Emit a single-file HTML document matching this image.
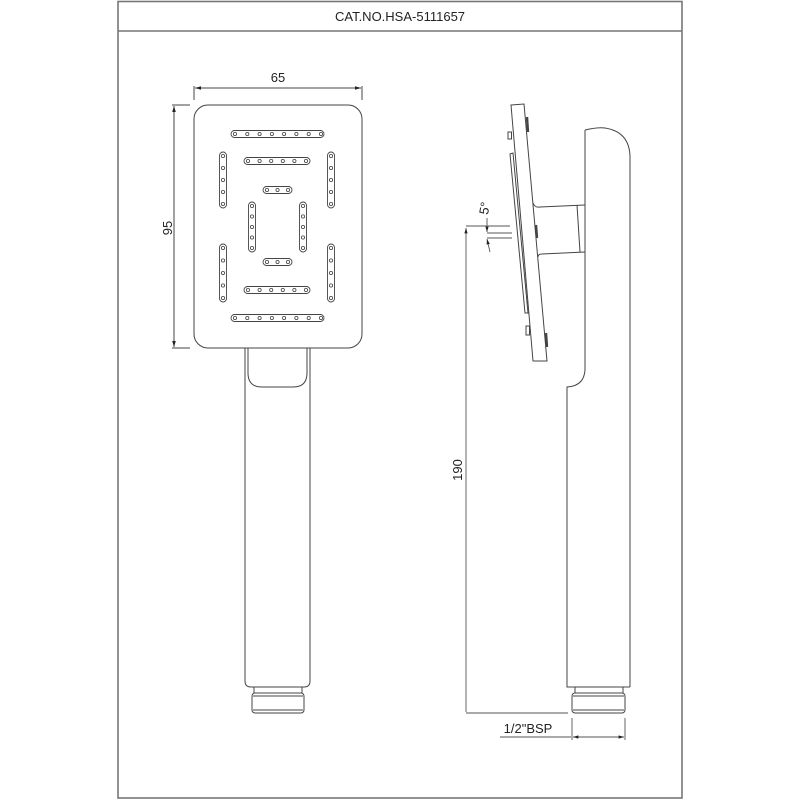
<!DOCTYPE html>
<html><head><meta charset="utf-8"><style>
html,body{margin:0;padding:0;background:#fff}
svg{display:block}
text{font-family:"Liberation Sans",sans-serif;fill:#222}
</style></head><body>
<svg width="800" height="800" viewBox="0 0 800 800" xmlns="http://www.w3.org/2000/svg">
<defs>
<marker id="ar" viewBox="0 0 10 10" refX="10" refY="5" markerWidth="6" markerHeight="6" orient="auto-start-reverse"><path d="M0,2 L10,5 L0,8 z" fill="#222"/></marker>
</defs>
<!-- frame -->
<rect x="118" y="1.5" width="564" height="796.5" fill="none" stroke="#777" stroke-width="1.6"/>
<line x1="118" y1="31" x2="682" y2="31" stroke="#777" stroke-width="1.6"/>
<text x="400" y="21" font-size="13" text-anchor="middle">CAT.NO.HSA-5111657</text>

<g fill="none" stroke="#444" stroke-width="1">
<!-- front head -->
<rect x="194" y="105" width="168" height="243" rx="14"/>
<!-- 65 dim -->
<line x1="194" y1="100" x2="194" y2="86"/><line x1="362" y1="100" x2="362" y2="86"/>
<line x1="195" y1="88" x2="361" y2="88" marker-start="url(#ar)" marker-end="url(#ar)"/>
<!-- 95 dim -->
<line x1="172" y1="105" x2="190" y2="105"/><line x1="172" y1="348" x2="190" y2="348"/>
<line x1="174" y1="106" x2="174" y2="347" marker-start="url(#ar)" marker-end="url(#ar)"/>
<!-- handle -->
<path d="M245 348 L245 681 Q245 687 251 687 L304 687 Q310 687 310 681 L310 348"/>
<path d="M248 348 L248 373 Q248 387 262 387 L293 387 Q307 387 307 373 L307 348"/>
<path d="M254 687 L254 693 L302 693 L302 687"/>
<rect x="252" y="693" width="52" height="20" rx="3"/>
<line x1="253" y1="696" x2="303" y2="696"/><line x1="253" y1="710" x2="303" y2="710"/>
</g>

<!-- slots -->
<g fill="none" stroke="#444" stroke-width="0.9">
<rect x="231" y="130.5" width="93" height="7" rx="3.5"/>
<rect x="244" y="157.5" width="66" height="7" rx="3.5"/>
<rect x="263" y="186.5" width="29" height="7" rx="3.5"/>
<rect x="263" y="258.5" width="29" height="7" rx="3.5"/>
<rect x="244" y="286.5" width="66" height="7" rx="3.5"/>
<rect x="231" y="314.5" width="93" height="7" rx="3.5"/>
<rect x="219.5" y="152" width="7" height="56" rx="3.5"/>
<rect x="327.5" y="152" width="7" height="56" rx="3.5"/>
<rect x="219.5" y="244" width="7" height="58" rx="3.5"/>
<rect x="327.5" y="244" width="7" height="58" rx="3.5"/>
<rect x="248.5" y="202" width="7" height="50" rx="3.5"/>
<rect x="299.5" y="202" width="7" height="50" rx="3.5"/>
</g>
<g fill="none" stroke="#444" stroke-width="0.8">
<circle cx="235" cy="134" r="1.6"/><circle cx="247.3" cy="134" r="1.6"/><circle cx="259.6" cy="134" r="1.6"/><circle cx="271.9" cy="134" r="1.6"/><circle cx="284.1" cy="134" r="1.6"/><circle cx="296.4" cy="134" r="1.6"/><circle cx="308.7" cy="134" r="1.6"/><circle cx="321" cy="134" r="1.6"/>
<circle cx="235" cy="318" r="1.6"/><circle cx="247.3" cy="318" r="1.6"/><circle cx="259.6" cy="318" r="1.6"/><circle cx="271.9" cy="318" r="1.6"/><circle cx="284.1" cy="318" r="1.6"/><circle cx="296.4" cy="318" r="1.6"/><circle cx="308.7" cy="318" r="1.6"/><circle cx="321" cy="318" r="1.6"/>
<circle cx="248" cy="161" r="1.6"/><circle cx="259.6" cy="161" r="1.6"/><circle cx="271.2" cy="161" r="1.6"/><circle cx="282.8" cy="161" r="1.6"/><circle cx="294.4" cy="161" r="1.6"/><circle cx="306" cy="161" r="1.6"/>
<circle cx="248" cy="290" r="1.6"/><circle cx="259.6" cy="290" r="1.6"/><circle cx="271.2" cy="290" r="1.6"/><circle cx="282.8" cy="290" r="1.6"/><circle cx="294.4" cy="290" r="1.6"/><circle cx="306" cy="290" r="1.6"/>
<circle cx="267" cy="190" r="1.6"/><circle cx="277.5" cy="190" r="1.6"/><circle cx="288" cy="190" r="1.6"/>
<circle cx="267" cy="262" r="1.6"/><circle cx="277.5" cy="262" r="1.6"/><circle cx="288" cy="262" r="1.6"/>
<circle cx="223" cy="156" r="1.6"/><circle cx="223" cy="168" r="1.6"/><circle cx="223" cy="180" r="1.6"/><circle cx="223" cy="192" r="1.6"/><circle cx="223" cy="204" r="1.6"/>
<circle cx="331" cy="156" r="1.6"/><circle cx="331" cy="168" r="1.6"/><circle cx="331" cy="180" r="1.6"/><circle cx="331" cy="192" r="1.6"/><circle cx="331" cy="204" r="1.6"/>
<circle cx="223" cy="248" r="1.6"/><circle cx="223" cy="260.5" r="1.6"/><circle cx="223" cy="273" r="1.6"/><circle cx="223" cy="285.5" r="1.6"/><circle cx="223" cy="298" r="1.6"/>
<circle cx="331" cy="248" r="1.6"/><circle cx="331" cy="260.5" r="1.6"/><circle cx="331" cy="273" r="1.6"/><circle cx="331" cy="285.5" r="1.6"/><circle cx="331" cy="298" r="1.6"/>
<circle cx="252" cy="206" r="1.6"/><circle cx="252" cy="216.5" r="1.6"/><circle cx="252" cy="227" r="1.6"/><circle cx="252" cy="237.5" r="1.6"/><circle cx="252" cy="248" r="1.6"/>
<circle cx="303" cy="206" r="1.6"/><circle cx="303" cy="216.5" r="1.6"/><circle cx="303" cy="227" r="1.6"/><circle cx="303" cy="237.5" r="1.6"/><circle cx="303" cy="248" r="1.6"/>
</g>
<text x="278" y="82" font-size="13" text-anchor="middle">65</text>
<text x="0" y="0" font-size="13" text-anchor="middle" transform="translate(172,228) rotate(-90)">95</text>

<!-- side view -->
<g fill="none" stroke="#444" stroke-width="1">
<polygon points="511,105 524,104 547,361 533,361"/>
<path d="M510 154 L513 153 L528 313 L525 313 Z"/>
<rect x="508" y="132" width="3.5" height="7"/>
<rect x="526" y="326" width="3.5" height="9"/>
<line x1="527" y1="117" x2="528" y2="132" stroke-width="2.4"/>
<line x1="536" y1="225" x2="537" y2="238" stroke-width="2.4"/>
<line x1="546" y1="333" x2="547" y2="347" stroke-width="2.4"/>
<path d="M533 203 Q535 208 540 207 L585 205"/>
<path d="M538 257 Q538 254 542 254 L585 252"/>
<line x1="577" y1="205" x2="580" y2="252"/>
<path d="M585 130 Q598 127 605 128 Q631 132 630 160 L630 687"/>
<path d="M585 130 L585 370 Q584 386 567 387 L567 687 L630 687"/>
<path d="M575 687 L575 693 L623 693 L623 687"/>
<rect x="572" y="693" width="53" height="20" rx="3"/>
<line x1="573" y1="696" x2="624" y2="696"/><line x1="573" y1="710" x2="624" y2="710"/>
</g>
<g fill="none" stroke="#555" stroke-width="0.9">
<line x1="466" y1="226" x2="510" y2="226"/>
<line x1="466" y1="713" x2="568" y2="713"/>
<line x1="466" y1="228" x2="466" y2="712" marker-start="url(#ar)"/>
<line x1="487" y1="233" x2="512" y2="233"/>
<line x1="487" y1="238" x2="512" y2="238"/>
<line x1="487" y1="218" x2="487" y2="232" marker-end="url(#ar)"/>
<line x1="490" y1="252" x2="487" y2="239" marker-end="url(#ar)"/>
<line x1="572" y1="718" x2="572" y2="740"/>
<line x1="625" y1="718" x2="625" y2="740"/>
<line x1="500" y1="737" x2="571" y2="737"/>
<line x1="573" y1="737" x2="624" y2="737" marker-start="url(#ar)" marker-end="url(#ar)"/>
</g>
<text x="0" y="0" font-size="13" text-anchor="middle" transform="translate(489,209) rotate(-80)">5°</text>
<text x="0" y="0" font-size="13" text-anchor="middle" transform="translate(462,470) rotate(-90)">190</text>
<text x="528" y="733" font-size="13" text-anchor="middle">1/2"BSP</text>
</svg>
</body></html>
